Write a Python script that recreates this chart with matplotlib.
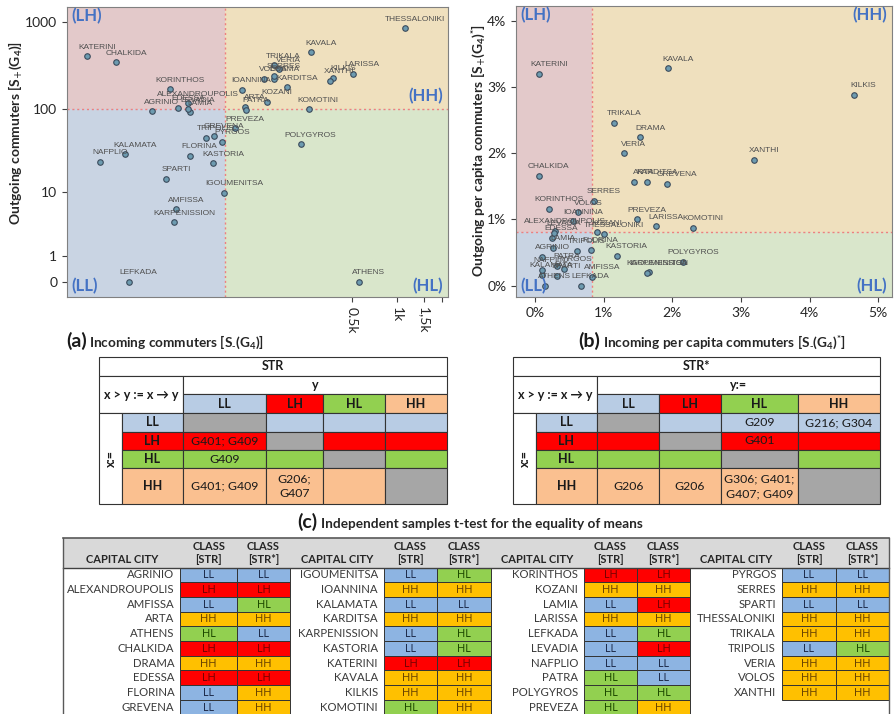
import numpy as np
import matplotlib.pyplot as plt
from matplotlib.patches import Rectangle

plt.rcParams['font.family'] = ['Lato', 'DejaVu Sans']
plt.rcParams['mathtext.default'] = 'regular'

# ---------------------------------------------------------------- data
CITIES = ["AGRINIO", "ALEXANDROUPOLIS", "AMFISSA", "ARTA", "ATHENS", "CHALKIDA",
          "DRAMA", "EDESSA", "FLORINA", "GREVENA", "IGOUMENITSA", "IOANNINA",
          "KALAMATA", "KARDITSA", "KARPENISSION", "KASTORIA", "KATERINI", "KAVALA",
          "KILKIS", "KOMOTINI", "KORINTHOS", "KOZANI", "LAMIA", "LARISSA",
          "LEFKADA", "LEVADIA", "NAFPLIO", "PATRA", "POLYGYROS", "PREVEZA",
          "PYRGOS", "SERRES", "SPARTI", "THESSALONIKI", "TRIKALA", "TRIPOLIS",
          "VERIA", "VOLOS", "XANTHI"]

# (a) absolute incoming / outgoing commuters
IN_ABS = [22.5, 40, 33, 96, 554, 12.6, 152, 34, 41, 60, 70, 92,
          14.6, 185, 32, 59, 7.75, 267, 374, 257, 30, 136, 41, 505,
          15.5, 40, 9.6, 98, 228, 83, 68, 151, 28.3, 1135, 150, 53,
          163, 129, 355]
OUT_ABS = [93, 115, 5.9, 105, 0, 346, 222, 102, 27.6, 48, 9.8, 165,
           28.9, 177, 3.9, 22.7, 404, 453, 230, 98, 168, 121, 91, 253,
           0, 98, 23.5, 97, 38.3, 58.7, 40.5, 240, 14.7, 858, 320, 45.6,
           287, 224, 212]

# (b) per capita incoming / outgoing commuters (%)
IN_PC = [0.107, 0.292, 0.836, 1.438, 0.146, 0.058, 1.535, 0.243, 0.811, 1.919,
         1.657, 0.559, 0.097, 1.633, 1.638, 1.190, 0.058, 1.939, 4.640, 2.308,
         0.209, 0.899, 0.258, 1.764, 0.671, 0.270, 0.097, 0.316, 2.162, 1.492,
         0.428, 0.865, 0.316, 1.011, 1.156, 0.617, 1.297, 0.632, 3.188]
OUT_PC = [0.439, 0.833, 0.136, 1.571, 0.0, 1.657, 2.237, 0.722, 0.545, 1.540,
          0.202, 0.970, 0.167, 1.571, 0.197, 0.449, 3.200, 3.283, 2.879, 0.874,
          1.162, 0.808, 0.571, 0.894, 0.0, 0.800, 0.237, 0.303, 0.364, 1.000,
          0.253, 1.278, 0.152, 0.773, 2.460, 0.530, 2.000, 1.111, 1.899]

THR_ABS = (70.6, 100)
THR_PC = (0.826, 0.818)

CLASS_STR = ["LL", "LH", "LL", "HH", "HL", "LH", "HH", "LH", "LL", "LL",
             "LL", "HH", "LL", "HH", "LL", "LL", "LH", "HH", "HH", "HL",
             "LH", "HH", "LL", "HH", "LL", "LL", "LL", "HL", "HL", "HL",
             "LL", "HH", "LL", "HH", "HH", "LL", "HH", "HH", "HH"]
CLASS_STAR = ["LL", "LH", "HL", "HH", "LL", "LH", "HH", "LH", "HH", "HH",
              "HL", "HH", "LL", "HH", "HL", "HL", "LH", "HH", "HH", "HH",
              "LH", "HH", "LH", "HH", "HL", "LH", "LL", "LL", "HL", "HH",
              "LL", "HH", "LL", "HH", "HH", "HL", "HH", "HH", "HH"]

CLASSES = ["LL", "LH", "HL", "HH"]
TEST_STR = [["", "", "", ""],
            ["G401; G409", "", "", ""],
            ["G409", "", "", ""],
            ["G401; G409", "G206;\nG407", "", ""]]
TEST_STAR = [["", "", "G209", "G216; G304"],
             ["", "", "G401", ""],
             ["", "", "", ""],
             ["G206", "G206", "G306; G401;\nG407; G409", ""]]

# ---------------------------------------------------------------- style
QUAD_BG = {"LH": "#e3c9ca", "HH": "#efe0be", "LL": "#c9d4e3", "HL": "#d9e6cb"}
MID_FILL = {"LL": "#b8cce4", "LH": "#ff0000", "HL": "#92d050", "HH": "#fac090"}
BOT_FILL = {"LL": "#8db4e2", "LH": "#ff0000", "HL": "#92d050", "HH": "#ffc000"}
BOT_TEXT = {"LL": "#1f2d4d", "LH": "#7a0000", "HL": "#1d4a00", "HH": "#6b4400"}
DIAG = "#a6a6a6"
QUAD_TXT = "#4472c4"
LBL = "#505050"
EDGE = "#333333"

W, H = 895, 714
fig = plt.figure(figsize=(W / 100, H / 100), dpi=100)

lay = fig.add_axes([0, 0, 1, 1])
lay.set_xlim(0, W)
lay.set_ylim(H, 0)
lay.axis("off")


def px_axes(l, t, r, b):
    return fig.add_axes([l / W, 1 - b / H, (r - l) / W, (b - t) / H])


def scatter_panel(ax, xs, ys, thr, hh_y):
    x0, x1 = ax.get_xlim()
    y0, y1 = ax.get_ylim()
    tx, ty = thr
    for q, (xa, xb, ya, yb) in {"LH": (x0, tx, ty, y1), "HH": (tx, x1, ty, y1),
                               "LL": (x0, tx, y0, ty), "HL": (tx, x1, y0, ty)}.items():
        ax.add_patch(Rectangle((xa, ya), xb - xa, yb - ya, fc=QUAD_BG[q], ec="none", zorder=0))
    ax.axvline(tx, color="#ee7f7f", ls=(0, (1.5, 2)), lw=1, zorder=1)
    ax.axhline(ty, color="#ee7f7f", ls=(0, (1.5, 2)), lw=1, zorder=1)
    ax.scatter(xs, ys, s=16, c="#6d9bb0", edgecolors="#3b4b5c", linewidths=0.8, zorder=3)
    for name, x, y in zip(CITIES, xs, ys):
        ax.annotate(name, (x, y), xytext=(7, 6.5), textcoords="offset points",
                    ha="center", va="center", fontsize=6.0, color=LBL,
                    family=["Liberation Sans", "DejaVu Sans"], zorder=4)
    kw = dict(fontsize=12, fontweight="bold", color=QUAD_TXT, transform=ax.transAxes, zorder=5)
    ax.text(0.012, 0.995, "(LH)", ha="left", va="top", **kw)
    ax.text(0.988, hh_y, "(HH)", ha="right", va="top", **kw)
    ax.text(0.012, 0.01, "(LL)", ha="left", va="bottom", **kw)
    ax.text(0.988, 0.01, "(HL)", ha="right", va="bottom", **kw)
    for s in ax.spines.values():
        s.set_color("#808080")
    ax.tick_params(colors="#404040", labelsize=10, labelcolor="#262626")


# ---------------------------------------------------------------- (a)
axa = px_axes(67, 7, 448, 297)
fwd = lambda v: np.log10(np.maximum(np.asarray(v, float) + 1, 1e-9))
inv = lambda u: 10 ** np.asarray(u, float) - 1
axa.set_xscale("function", functions=(fwd, inv))
axa.set_yscale("function", functions=(fwd, inv))
axa.set_xlim(5.4, 2180)
axa.set_ylim(-0.33, 1510)
axa.set_yticks([0, 1, 10, 100, 1000], ["0", "1", "10", "100", "1000"])
axa.set_xticks([500, 1000, 1500, 2000], ["0.5k", "1k", "1,5k", ""], rotation=-90)
axa.minorticks_off()
scatter_panel(axa, IN_ABS, OUT_ABS, THR_ABS, 0.72)

# ---------------------------------------------------------------- (b)
axb = px_axes(516, 6, 892, 297)
axb.set_xlim(-0.277, 5.2)
axb.set_ylim(-0.17, 4.22)
axb.set_xticks(range(6), [f"{i}%" for i in range(6)])
axb.set_yticks(range(5), [f"{i}%" for i in range(5)])
scatter_panel(axb, IN_PC, OUT_PC, THR_PC, 0.995)

lab = dict(fontsize=10, fontweight="bold", color="#262626", rotation=90, ha="center", va="center")
fig.text(15 / W, 1 - 133 / H, r"Outgoing commuters [S$_{\text{+}}$(G$_{4}$)]", **lab)
fig.text(478 / W, 1 - 150 / H, r"Outgoing per capita commuters [S$_{\text{+}}$(G$_{4}$)$^{*}$]", **lab)


def caption(x, y, tag, text, gap):
    fig.text(x / W, 1 - y / H, tag, fontsize=14, fontweight="bold", color="#1a1a1a", va="baseline")
    fig.text((x + gap) / W, 1 - y / H, text, fontsize=9.8, fontweight="bold", color="#262626",
             va="baseline")


caption(66, 347, "(a)", r"Incoming commuters [S$_{\text{-}}$(G$_{4}$)]", 23)
caption(578, 347, "(b)", r"Incoming per capita commuters [S$_{\text{-}}$(G$_{4}$)$^{*}$]", 25)
caption(297, 528, "(c)", "Independent samples t-test for the equality of means", 24)


# ---------------------------------------------------------------- middle tables
def cell(x0, y0, x1, y1, fc="white", text="", lw=0.8, **kw):
    lay.add_patch(Rectangle((x0, y0), x1 - x0, y1 - y0, fc=fc, ec=EDGE, lw=lw))
    if text:
        lay.text((x0 + x1) / 2, (y0 + y1) / 2, text, ha="center", va="center",
                 color="#1a1a1a", **kw)


ROWS_Y = [357, 376, 394.3, 413.3, 431.7, 450, 468.3, 504]


def matrix_table(xe, title, ylab, tests):
    Y = ROWS_Y
    bold = dict(fontsize=9, fontweight="bold")
    cell(xe[0], Y[0], xe[-1], Y[1], text=title, **bold)
    cell(xe[0], Y[1], xe[2], Y[3], text="x > y := x \u2192 y", **bold)
    cell(xe[2], Y[1], xe[-1], Y[2], text=ylab, **bold)
    cell(xe[0], Y[3], xe[1], Y[7], text="x:=", rotation=90, **bold)
    for j, c in enumerate(CLASSES):
        cell(xe[2 + j], Y[2], xe[3 + j], Y[3], fc=MID_FILL[c], text=c, **bold)
    for i, r in enumerate(CLASSES):
        cell(xe[1], Y[3 + i], xe[2], Y[4 + i], fc=MID_FILL[r], text=r, **bold)
        for j in range(4):
            fc = DIAG if i == j else MID_FILL[r]
            cell(xe[2 + j], Y[3 + i], xe[3 + j], Y[4 + i], fc=fc,
                 text=tests[i][j], fontsize=8.8, linespacing=1.45)


matrix_table([99.3, 121.7, 183.3, 266, 323.3, 385, 446.7], "STR", "y", TEST_STR)
matrix_table([513.3, 535.7, 597.3, 659.3, 720.7, 797.7, 880], "STR*", "y:=", TEST_STAR)

# ---------------------------------------------------------------- bottom table
GROUPS = [(63.3, 180.5, 237, 290), (290, 384, 437, 491),
          (491, 584, 637, 690), (690, 782, 836, 889)]
TOP, HEAD_B, ROW_H = 537.5, 567.5, 14.7

lay.add_patch(Rectangle((63.3, TOP), 889 - 63.3, HEAD_B - TOP, fc="#d9d9d9", ec="none"))
lay.plot([63.3, 889], [TOP, TOP], color="#595959", lw=1.2)
lay.plot([63.3, 889], [HEAD_B, HEAD_B], color="#404040", lw=1.0)
lay.plot([63.3, 63.3], [TOP, H], color="#595959", lw=1.0)
lay.plot([889, 889], [TOP, H], color="#595959", lw=1.0)

hk = dict(fontsize=8, fontweight="bold", color="#262626", ha="center", va="center")
for g, (xa, xb, xc, xd) in enumerate(GROUPS):
    lay.text((xa + xb) / 2, 559.5, "CAPITAL CITY", **hk)
    lay.text((xb + xc) / 2, 546.5, "CLASS", **hk)
    lay.text((xb + xc) / 2, 559.5, "[STR]", **hk)
    lay.text((xc + xd) / 2, 546.5, "CLASS", **hk)
    lay.text((xc + xd) / 2, 559.5, "[STR*]", **hk)
    for i in range(10):
        k = g * 10 + i
        if k >= len(CITIES):
            break
        y0 = HEAD_B + i * ROW_H
        lay.text(xb - 6, y0 + ROW_H / 2, CITIES[k], ha="right", va="center",
                 fontsize=8.2, color="#3a3a3a")
        for (u0, u1), c in (((xb, xc), CLASS_STR[k]), ((xc, xd), CLASS_STAR[k])):
            lay.add_patch(Rectangle((u0, y0), u1 - u0, ROW_H, fc=BOT_FILL[c], ec=EDGE, lw=0.7))
            lay.text((u0 + u1) / 2, y0 + ROW_H / 2, c, ha="center", va="center",
                     fontsize=7.8, color=BOT_TEXT[c])

fig.savefig("out.png", dpi=100)
